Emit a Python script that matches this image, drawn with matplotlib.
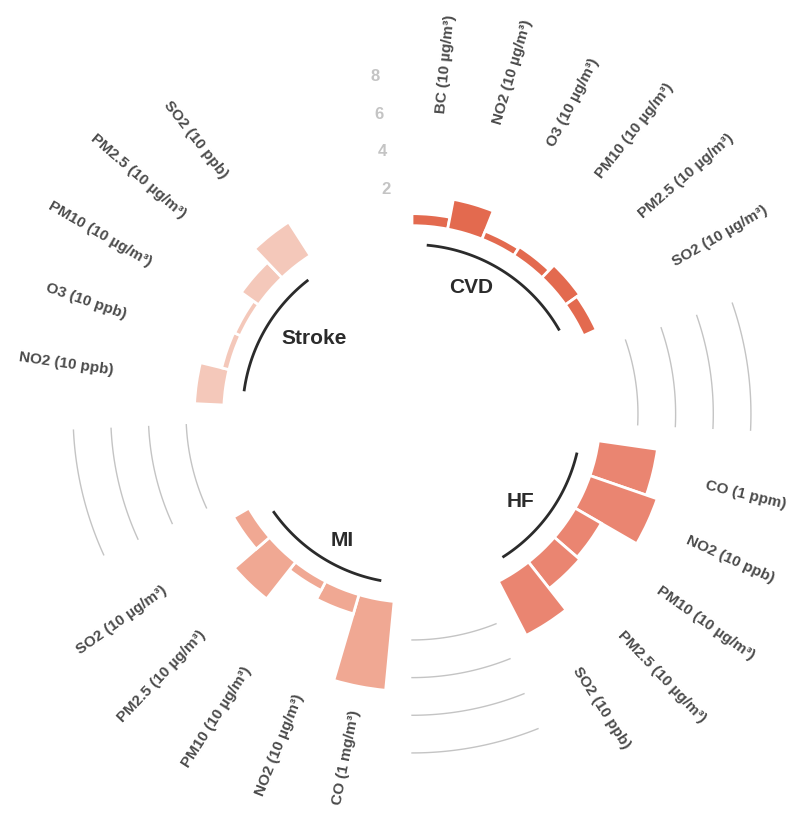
import numpy as np
import matplotlib.pyplot as plt

plt.rcParams['font.family'] = ['Liberation Sans', 'DejaVu Sans']

# data
groups = ["CVD", "HF", "MI", "Stroke"]
group_colors = ["#E36A4F", "#EA8571", "#F0A893", "#F4C8BA"]

cvd_labels = ["BC (10 µg/m³)", "NO2 (10 µg/m³)", "O3 (10 µg/m³)",
              "PM10 (10 µg/m³)", "PM2.5 (10 µg/m³)", "SO2 (10 µg/m³)"]
cvd_values = [0.64, 1.61, 0.46, 0.56, 0.93, 0.76]

hf_labels = ["CO (1 ppm)", "NO2 (10 ppb)", "PM10 (10 µg/m³)",
             "PM2.5 (10 µg/m³)", "SO2 (10 ppb)"]
hf_values = [3.17, 3.78, 1.61, 1.79, 3.23]

mi_labels = ["CO (1 mg/m³)", "NO2 (10 µg/m³)", "PM10 (10 µg/m³)",
             "PM2.5 (10 µg/m³)", "SO2 (10 µg/m³)"]
mi_values = [4.74, 1.06, 0.54, 2.49, 0.95]

stroke_labels = ["NO2 (10 ppb)", "O3 (10 ppb)", "PM10 (10 µg/m³)",
                 "PM2.5 (10 µg/m³)", "SO2 (10 ppb)"]
stroke_values = [1.56, 0.40, 0.35, 1.13, 2.12]

ref_levels = [2, 4, 6, 8]

all_labels = [cvd_labels, hf_labels, mi_labels, stroke_labels]
all_values = [cvd_values, hf_values, mi_values, stroke_values]

PAD = 3
sizes = [len(v) for v in all_values]
total = sum(sizes) + PAD * len(sizes)
width = 2 * np.pi / total
angles = (np.arange(total) + 0.5) * width

fig = plt.figure(figsize=(8, 8.13), dpi=100)
R = 21 * 18.83  # axes radius in px
ax = fig.add_axes([(412 - R) / 800, (399 - R) / 813, 2 * R / 800, 2 * R / 813], projection='polar')
ax.set_theta_zero_location('N')
ax.set_theta_direction(-1)
ax.set_ylim(-10, 11)
ax.set_axis_off()

offset = 0
for k in range(len(groups)):
    idx = np.arange(offset, offset + sizes[k])
    ax.bar(angles[idx], all_values[k], width=width, color=group_colors[k],
           edgecolor='white', linewidth=2)

    # labels for each bar
    for a, lab in zip(angles[idx], all_labels[k]):
        deg = np.degrees(a)
        if deg < 180:
            rot, ha = 90 - deg, 'left'
        else:
            rot, ha = 270 - deg, 'right'
        ax.text(a, 6.05, lab, rotation=rot, rotation_mode='anchor', ha=ha, va='center',
                fontsize=11, fontweight='bold', color='#4b4b4b')

    # group line and name
    x1 = np.linspace(angles[idx[0]], angles[idx[-1]], 50)
    ax.plot(x1, [-1] * 50, color='#2b2b2b', lw=2)
    mid = np.mean(x1)
    ax.text(mid, -2, groups[k], ha='right' if mid < np.pi else 'left', va='center',
            fontsize=15, fontweight='bold', color='#2b2b2b')

    offset += sizes[k]
    # reference lines in the gap (not after the last group)
    if k < len(groups) - 1:
        x2 = np.linspace(angles[offset], angles[offset + PAD - 1], 50)
        for lv in ref_levels:
            ax.plot(x2, [lv] * 50, color='#c4c4c4', lw=1)
    offset += PAD

# reference values in the last gap
for lv in ref_levels:
    ax.text(angles[-1], lv, str(lv), ha='right', va='center',
            fontsize=12, fontweight='bold', color='#c4c4c4')

fig.savefig('out.png', dpi=100)
